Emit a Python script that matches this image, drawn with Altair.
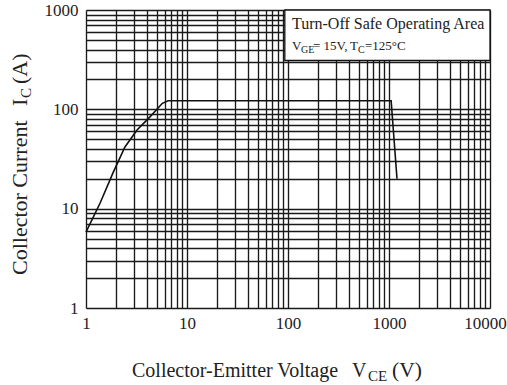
import altair as alt
import pandas as pd

# Curve
vce = [1.0, 1.38, 1.85, 2.43, 3.2, 4.3, 5.7, 6.5, 1050, 1200]
ic = [5.8, 11.4, 22.9, 41.8, 62, 84, 115, 122, 122, 20]

# Grid / tick values
x_ticks = [1, 2, 3, 4, 5, 6, 7, 8, 9,
           10, 20, 30, 40, 50, 60, 70, 80, 90,
           100, 200, 300, 400, 500, 600, 700, 800, 900,
           1000, 2000, 3000, 4000, 5000, 6000, 7000, 8000, 9000, 10000]
y_ticks = [1, 2, 3, 4, 5, 6, 7, 8, 9,
           10, 20, 30, 40, 50, 60, 70, 80, 90,
           100, 200, 300, 400, 500, 600, 700, 800, 900, 1000]
x_labels = [1, 10, 100, 1000, 10000]
y_labels = [1, 10, 100, 1000]

# Annotation box extent (data units)
box_x = [93]
box_x2 = [10000]
box_y = [310]
box_y2 = [1000]

W, H = 404, 298
FONT = "Liberation Serif"

x_scale = alt.Scale(type="log", domain=[1, 10000])
y_scale = alt.Scale(type="log", domain=[1, 1000])

axis_common = dict(
    grid=True, gridColor="#1a1a1a", gridWidth=1.35, gridOpacity=1,
    ticks=False, domain=False, labelFont=FONT, labelFontSize=17,
    labelColor="#222", labelOverlap=False, labelFlush=False, title=None,
    format="d",
)

x_axis = alt.Axis(values=x_ticks, labelPadding=7,
                  labelExpr="indexof(%s, datum.value) >= 0 ? datum.label : ''" % x_labels,
                  labelOffset={"condition": {"test": "datum.value == 10000", "value": -5}, "value": 0},
                  **axis_common)
y_axis = alt.Axis(values=y_ticks, labelPadding=8,
                  labelExpr="indexof(%s, datum.value) >= 0 ? datum.label : ''" % y_labels,
                  **axis_common)

df = pd.DataFrame({"vce": vce, "ic": ic})
line = alt.Chart(df).mark_line(color="#111", strokeWidth=1.6).encode(
    x=alt.X("vce:Q", scale=x_scale, axis=x_axis),
    y=alt.Y("ic:Q", scale=y_scale, axis=y_axis),
)

box_df = pd.DataFrame({"x": box_x, "x2": box_x2, "y": box_y, "y2": box_y2})
box = alt.Chart(box_df).mark_rect(fill="white", stroke="#111", strokeWidth=1.3).encode(
    x=alt.X("x:Q", scale=x_scale),
    x2="x2:Q",
    y=alt.Y("y:Q", scale=y_scale),
    y2="y2:Q",
)

# text pieces: (text, x, y, size, angle) relative to the plot origin
texts = [
    # x title
    ("Collector-Emitter Voltage", 46, 367, 20, 0),
    ("V", 266, 367, 20, 0),
    ("CE", 282, 371, 15, 0),
    ("(V)", 306, 367, 21.5, 0),
    # y title
    ("Collector Current", -59, 265, 22, 270),
    ("I", -59, 96, 22, 270),
    ("C", -55, 88, 15, 270),
    ("(A)", -59, 74, 22, 270),
    # box text
    ("Turn-Off Safe Operating Area", 206, 19, 16, 0),
    ("V", 206, 40, 13, 0),
    ("GE", 215, 43, 10, 0),
    ("= 15V,", 227, 40, 13, 0),
    ("T", 264, 40, 13, 0),
    ("C", 272, 43, 10, 0),
    ("=125°C", 279, 40, 13, 0),
]

text_layers = []
for t, tx, ty, ts, ta in texts:
    tl = alt.Chart(pd.DataFrame({"t": [t]})).mark_text(
        align="left", baseline="alphabetic", font=FONT, fontSize=ts,
        angle=ta, color="#222",
    ).encode(x=alt.value(tx), y=alt.value(ty), text="t:N")
    text_layers.append(tl)

chart = alt.layer(line, box, *text_layers).properties(
    width=W, height=H,
    autosize=alt.AutoSizeParams(type="none"),
    padding={"left": 86, "top": 10, "right": 17, "bottom": 77},
).configure_view(stroke="#111", strokeWidth=1.5).configure(background="white")

chart.save("out.html", embed_options={"renderer": "svg", "actions": False})
